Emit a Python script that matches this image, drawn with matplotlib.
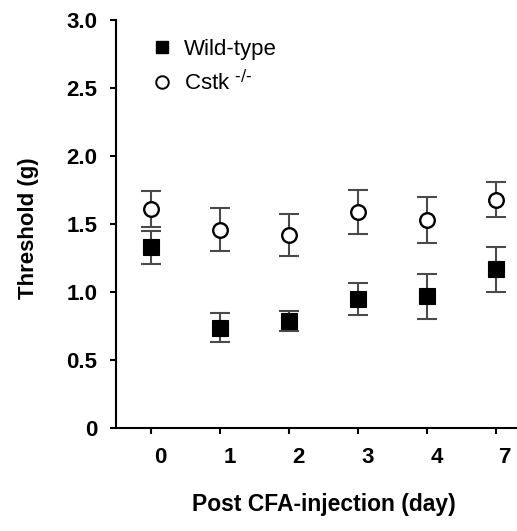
"""
Umbral mecánico tras inyección de CFA: wild-type vs Cstk -/-
"""

import numpy as np
import matplotlib
matplotlib.use('Agg')
from matplotlib import pyplot as plt
from matplotlib.lines import Line2D
import matplotlib.transforms as mtransforms

# Datos
dias = ['0', '1', '2', '3', '4', '7']
wt_media = [1.33, 0.74, 0.79, 0.95, 0.97, 1.17]
wt_err = [0.12, 0.105, 0.075, 0.12, 0.165, 0.165]
ko_media = [1.61, 1.46, 1.42, 1.59, 1.53, 1.68]
ko_err = [0.13, 0.16, 0.155, 0.16, 0.17, 0.13]
y_ticks = [0, 0.5, 1.0, 1.5, 2.0, 2.5, 3.0]
y_ticklabels = ['0', '0.5', '1.0', '1.5', '2.0', '2.5', '3.0']

plt.rcParams['font.family'] = ['Liberation Sans', 'DejaVu Sans']

fig = plt.figure(figsize=(5.17, 5.31), dpi=100)
ax = fig.add_axes([0.2244, 0.1934, 0.7756, 0.7689])

x = np.arange(len(dias))

# barras de error (gris) y marcadores
ax.errorbar(x, wt_media, yerr=wt_err, fmt='none', ecolor='#4a4a4a',
            elinewidth=1.5, capsize=7, capthick=1.5, zorder=2)
ax.errorbar(x, ko_media, yerr=ko_err, fmt='none', ecolor='#4a4a4a',
            elinewidth=1.5, capsize=7, capthick=1.5, zorder=2)
ax.plot(x, wt_media, 's', ms=11, color='black', mec='black', mew=0.8, zorder=3)
ax.plot(x, ko_media, 'o', ms=10.5, mfc='white', mec='black', mew=1.7, zorder=3)

ax.set_xlim(-0.5, 5.31)
ax.set_ylim(0, 3.0)
ax.set_xticks(x)
ax.set_xticklabels(dias)
ax.set_yticks(y_ticks)
ax.set_yticklabels(y_ticklabels)

for s in ['top', 'right']:
    ax.spines[s].set_visible(False)
for s in ['left', 'bottom']:
    ax.spines[s].set_linewidth(1.5)

ax.tick_params(axis='both', direction='out', length=4.5, width=1.5,
               labelsize=16)
ax.tick_params(axis='y', pad=9)
ax.tick_params(axis='x', pad=9)
for lab in ax.get_xticklabels() + ax.get_yticklabels():
    lab.set_fontweight('bold')

# las etiquetas del eje x están corridas a la derecha en el original
desplazar = mtransforms.ScaledTranslation(0.1, 0, fig.dpi_scale_trans)
for lab in ax.get_xticklabels():
    lab.set_transform(lab.get_transform() + desplazar)

ax.set_ylabel('Threshold (g)', fontsize=16, fontweight='bold')
ax.yaxis.set_label_coords(-0.193, 0.49)
ax.set_xlabel('Post CFA-injection (day)', fontsize=16.5, fontweight='bold')
ax.xaxis.set_label_coords(0.518, -0.158)

# leyenda
h1 = Line2D([], [], marker='s', ls='none', ms=8.5, color='black')
h2 = Line2D([], [], marker='o', ls='none', ms=9, mfc='white', mec='black', mew=1.4)
ax.legend([h1, h2], ['Wild-type', r'Cstk $^{\text{-/-}}$'], loc='upper left',
          bbox_to_anchor=(151 / 517, 1 - 39 / 531), bbox_transform=fig.transFigure,
          frameon=False, fontsize=16, handlelength=0.95, handletextpad=0.55,
          labelspacing=0.45, borderpad=0, borderaxespad=0)

plt.savefig('out.png', dpi=100)
